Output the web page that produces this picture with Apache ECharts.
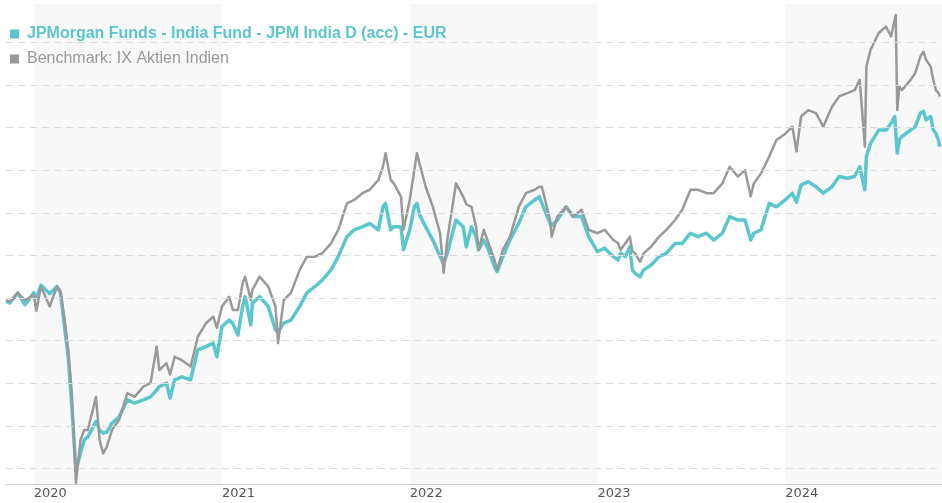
<!DOCTYPE html>
<html>
<head>
<meta charset="utf-8">
<title>JPM India D (acc) - EUR</title>
<script src="https://cdn.jsdelivr.net/npm/echarts@6/dist/echarts.min.js"></script>
<style>
  html, body { margin: 0; padding: 0; background: #fff; }
  #chart { width: 942px; height: 503px; }
</style>
</head>
<body>
<div id="chart"></div>
<script>
// Wertentwicklung indexiert (Start = ca. 100)
const fundName = 'JPMorgan Funds - India Fund - JPM India D (acc) - EUR'
const benchName = 'Benchmark: IX Aktien Indien'

const dates = [
  '2019-11-08', '2019-11-15', '2019-12-01', '2019-12-15',
  '2020-01-01', '2020-01-06', '2020-01-15', '2020-02-01', '2020-02-15', '2020-02-22', '2020-03-01', '2020-03-08',
  '2020-03-15', '2020-03-23', '2020-04-01', '2020-04-08', '2020-04-15', '2020-05-01', '2020-05-08', '2020-05-15',
  '2020-05-22', '2020-06-01', '2020-06-15', '2020-07-01', '2020-07-15', '2020-08-01', '2020-08-15', '2020-08-27',
  '2020-09-01', '2020-09-15', '2020-09-22', '2020-10-01', '2020-10-15', '2020-11-01', '2020-11-15', '2020-12-01',
  '2020-12-15', '2020-12-22',
  '2021-01-01', '2021-01-15', '2021-01-22', '2021-02-01', '2021-02-10', '2021-02-15', '2021-02-26', '2021-03-01',
  '2021-03-15', '2021-04-01', '2021-04-15', '2021-04-20', '2021-05-01', '2021-05-15', '2021-06-01', '2021-06-15',
  '2021-07-01', '2021-07-15', '2021-08-01', '2021-08-15', '2021-09-01', '2021-09-15', '2021-10-01', '2021-10-15',
  '2021-11-01', '2021-11-10', '2021-11-15', '2021-11-25', '2021-12-01', '2021-12-15', '2021-12-20',
  '2022-01-01', '2022-01-10', '2022-01-15', '2022-01-20', '2022-02-01', '2022-02-15', '2022-03-01', '2022-03-08',
  '2022-03-15', '2022-04-01', '2022-04-15', '2022-04-21', '2022-05-01', '2022-05-10', '2022-05-15', '2022-05-25',
  '2022-06-01', '2022-06-15', '2022-06-20', '2022-07-01', '2022-07-15', '2022-08-01', '2022-08-15', '2022-09-01',
  '2022-09-10', '2022-09-15', '2022-10-01', '2022-10-04', '2022-10-15', '2022-11-01', '2022-11-15', '2022-12-01',
  '2022-12-15',
  '2023-01-01', '2023-01-15', '2023-02-01', '2023-02-10', '2023-02-15', '2023-02-24', '2023-03-05', '2023-03-10',
  '2023-03-15', '2023-03-25', '2023-04-01', '2023-04-15', '2023-05-01', '2023-05-15', '2023-06-01', '2023-06-15',
  '2023-07-01', '2023-07-15', '2023-08-01', '2023-08-15', '2023-09-01', '2023-09-15', '2023-10-01', '2023-10-15',
  '2023-10-26', '2023-11-01', '2023-11-15', '2023-12-01', '2023-12-15',
  '2024-01-01', '2024-01-15', '2024-01-23', '2024-02-01', '2024-02-15', '2024-03-01', '2024-03-15', '2024-04-01',
  '2024-04-15', '2024-05-01', '2024-05-15', '2024-05-25', '2024-06-04', '2024-06-07', '2024-06-15', '2024-07-01',
  '2024-07-15', '2024-07-25', '2024-08-01', '2024-08-03', '2024-08-06', '2024-08-10', '2024-08-15', '2024-09-01',
  '2024-09-10', '2024-09-20', '2024-09-26', '2024-10-01', '2024-10-10', '2024-10-15', '2024-10-20', '2024-10-25',
  '2024-10-28'
]

const fundValues = [
  99.3, 98.8, 101.2, 98.4,
  101.2, 100.0, 103.0, 101.0, 102.7, 101.2, 93.0, 86.2,
  74.5, 59.6, 63.6, 66.7, 67.4, 71.0, 69.0, 68.3,
  68.5, 70.6, 72.1, 76.1, 75.3, 76.1, 76.8, 78.4,
  79.2, 80.0, 76.5, 80.8, 81.5, 80.8, 87.8, 88.6,
  89.4, 86.2,
  93.3, 94.8, 94.0, 91.3, 98.0, 100.3, 93.7, 98.8,
  100.3, 98.0, 92.5, 92.0, 94.1, 94.8, 98.0, 101.2,
  102.7, 104.2, 106.6, 109.7, 114.4, 116.0, 116.7, 117.5,
  116.0, 121.4, 122.2, 116.0, 116.7, 116.7, 111.3,
  116.0, 121.4, 122.2, 119.6, 116.7, 113.6, 109.7, 108.1,
  110.5, 118.3, 116.7, 112.0, 116.7, 114.4, 111.3, 113.6,
  112.0, 107.3, 106.2, 109.7, 113.6, 117.5, 121.4, 123.0,
  123.8, 122.2, 117.5, 117.0, 118.3, 121.4, 119.1, 119.1,
  114.4,
  110.9, 111.7, 109.7, 108.9, 110.5, 109.7, 112.0, 106.6,
  105.8, 105.0, 106.6, 107.7, 109.7, 110.5, 112.8, 112.8,
  115.2, 114.4, 115.2, 113.6, 115.2, 119.1, 118.3, 118.3,
  113.6, 115.2, 116.0, 122.2, 121.4,
  123.0, 124.6, 122.5, 126.5, 127.3, 126.1, 124.6, 126.1,
  128.5, 128.1, 128.5, 130.8, 125.4, 133.2, 136.3, 139.4,
  139.4, 141.0, 142.6, 143.0, 134.0, 137.1, 137.9, 139.4,
  140.2, 143.4, 143.8, 141.8, 142.6, 139.4, 138.7, 137.1,
  135.5
]

const benchValues = [
  99.5, 99.1, 101.2, 99.5,
  100.7, 97.0, 102.7, 98.0, 102.7, 101.5, 95.0, 87.8,
  77.7, 56.6, 66.7, 69.0, 69.0, 76.8, 66.7, 63.5,
  65.1, 69.0, 71.4, 77.7, 76.8, 79.2, 80.0, 88.6,
  83.1, 84.7, 82.0, 86.2, 85.4, 83.9, 90.9, 94.1,
  95.6, 93.0,
  98.0, 100.3, 97.2, 97.2, 103.4, 105.0, 99.5, 101.9,
  105.0, 102.7, 98.0, 89.4, 99.5, 101.2, 106.6, 109.7,
  109.7, 110.5, 112.8, 116.0, 122.2, 123.0, 124.6, 125.4,
  127.7, 130.8, 134.0, 127.7, 126.9, 123.8, 116.0,
  123.0, 130.0, 134.0, 131.6, 126.1, 121.4, 115.2, 105.9,
  113.6, 126.9, 123.8, 122.0, 121.4, 116.7, 111.3, 116.0,
  113.6, 108.9, 106.6, 111.3, 114.4, 121.4, 124.6, 125.4,
  126.1, 126.1, 118.3, 114.4, 119.1, 121.4, 119.1, 120.7,
  116.0,
  115.2, 116.0, 113.6, 112.9, 111.3, 112.8, 114.4, 111.0,
  110.5, 108.5, 110.5, 112.0, 114.4, 116.0, 118.3, 120.7,
  125.4, 125.4, 124.6, 124.6, 126.9, 130.8, 128.5, 130.0,
  123.8, 126.9, 129.2, 133.2, 137.1,
  138.5, 140.2, 134.4, 142.6, 144.1, 143.4, 140.2, 144.9,
  147.3, 148.1, 148.8, 151.2, 135.5, 154.3, 158.2, 162.2,
  163.7, 161.4, 165.3, 166.4, 144.1, 149.6, 148.8, 151.2,
  152.8, 156.7, 157.8, 155.9, 154.3, 151.2, 148.8, 148.1,
  147.3
]

const yearTicks = [2020, 2021, 2022, 2023, 2024]
const shadedYears = [2020, 2022, 2024]
const gridValues = [60, 70, 80, 90, 100, 110, 120, 130, 140, 150, 160]

// Datum 'YYYY-MM-DD' -> Zeitstempel (lokale Zeit)
const toTime = s => {
  const p = s.split('-').map(Number)
  return new Date(p[0], p[1] - 1, p[2]).getTime()
}
const yearStart = y => new Date(y, 0, 1).getTime()
const xMin = toTime('2019-11-08')
const xMax = toTime('2024-11-01')

const chart = echarts.init(document.getElementById('chart'))

const option = {
  animation: false,
  backgroundColor: '#ffffff',
  grid: { left: 6, right: 0, top: 4, bottom: 19 },
  legend: {
    orient: 'vertical',
    left: 10,
    top: 26,
    padding: 0,
    itemWidth: 9,
    itemHeight: 9,
    itemGap: 9,
    icon: 'rect',
    selectedMode: false,
    textStyle: { fontFamily: 'Liberation Sans', fontSize: 16, padding: [0, 0, 0, 3] },
    data: [
      { name: fundName, textStyle: { color: '#5bc6cc', fontWeight: 'bold' } },
      { name: benchName, textStyle: { color: '#999999' } }
    ]
  },
  xAxis: {
    type: 'value',
    min: xMin,
    max: xMax,
    axisLine: { show: true, lineStyle: { color: '#d0d0d0', width: 1 } },
    axisTick: { show: false },
    splitLine: { show: false },
    axisLabel: {
      customValues: yearTicks.map(yearStart),
      formatter: v => String(new Date(v).getFullYear()),
      align: 'left',
      margin: 3,
      color: '#555555',
      fontFamily: 'DejaVu Sans',
      fontSize: 13
    }
  },
  yAxis: {
    type: 'value',
    min: 56.34,
    max: 169.0,
    show: false,
    splitLine: { show: false }
  },
  series: [
    {
      // Hintergrund: Jahresbänder und Rasterlinien
      name: 'bg',
      type: 'line',
      data: [],
      z: 1,
      silent: true,
      markArea: {
        silent: true,
        itemStyle: { color: '#f8f8f8' },
        data: shadedYears.map(y => [
          { xAxis: yearStart(y) },
          { xAxis: Math.min(yearStart(y + 1), xMax) }
        ])
      },
      markLine: {
        silent: true,
        symbol: 'none',
        label: { show: false },
        lineStyle: { color: '#dcdcdc', type: [7, 5], width: 1 },
        data: gridValues.map(v => ({ yAxis: v }))
      }
    },
    {
      name: fundName,
      type: 'line',
      showSymbol: false,
      z: 2,
      color: '#5bc6cc',
      lineStyle: { width: 3.5, join: 'round' },
      emphasis: { disabled: true },
      data: dates.map((d, i) => [toTime(d), fundValues[i]])
    },
    {
      name: benchName,
      type: 'line',
      showSymbol: false,
      z: 3,
      color: '#999999',
      lineStyle: { width: 2.5, join: 'round' },
      emphasis: { disabled: true },
      data: dates.map((d, i) => [toTime(d), benchValues[i]])
    }
  ]
}

chart.setOption(option)
</script>
</body>
</html>
